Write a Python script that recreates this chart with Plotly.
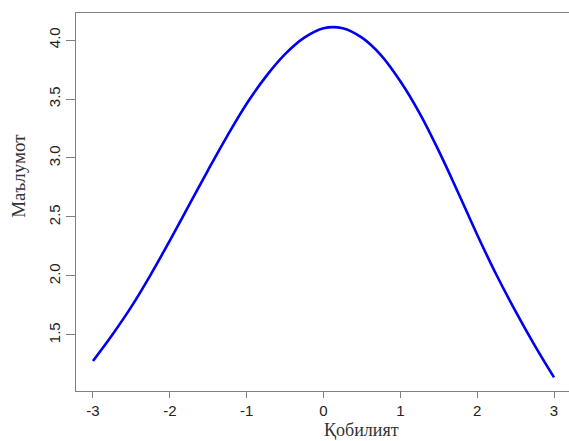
import plotly.graph_objects as go

# Ability (theta) and information values
theta = [-3.0, -2.75, -2.5, -2.25, -2.0, -1.75, -1.5, -1.25, -1.0, -0.75, -0.5, -0.25,
         0.0, 0.25, 0.5, 0.75, 1.0, 1.25, 1.5, 1.75, 2.0, 2.25, 2.5, 2.75, 3.0]
info = [1.28, 1.50, 1.74, 2.01, 2.30, 2.60, 2.90, 3.19, 3.46, 3.69, 3.88, 4.02,
        4.10, 4.10, 4.02, 3.87, 3.65, 3.38, 3.06, 2.71, 2.35, 2.01, 1.70, 1.41, 1.14]

x_ticks = [-3, -2, -1, 0, 1, 2, 3]
y_ticks = [1.5, 2.0, 2.5, 3.0, 3.5, 4.0]
x_title = "Қобилият"
y_title = "Маълумот"

fig = go.Figure()
fig.add_trace(go.Scatter(x=theta, y=info, mode="lines",
                         line=dict(color="#0000EE", width=2.6, shape="spline", smoothing=1.0),
                         showlegend=False, hoverinfo="skip"))

axis_common = dict(showgrid=False, zeroline=False, showline=True, linecolor="#808080",
                   linewidth=1, ticks="outside", tickcolor="#808080", tickwidth=1,
                   tickfont=dict(family="Liberation Sans, Arial", size=15, color="#222222"))

fig.update_xaxes(range=[-3.221, 3.195], tickvals=x_ticks, ticktext=[str(v) for v in x_ticks],
                 ticklen=6, mirror=True, **axis_common)
fig.update_yaxes(range=[1.025, 4.229], tickvals=y_ticks, ticktext=[f"{v:.1f}" for v in y_ticks],
                 ticklen=9, tickangle=-90, **axis_common)

title_font = dict(family="Liberation Serif, Times New Roman", size=18, color="#333333")
fig.add_annotation(text=x_title, xref="paper", yref="paper", x=0.580, y=-0.103,
                   xanchor="center", yanchor="middle", showarrow=False, font=title_font)
fig.add_annotation(text=y_title, xref="paper", yref="paper", x=-0.117, y=0.57,
                   xanchor="center", yanchor="middle", showarrow=False, textangle=-90,
                   font=dict(family="Liberation Serif, Times New Roman", size=19, color="#333333"))

fig.update_layout(width=569, height=441, margin=dict(l=76, r=0, t=13, b=50),
                  paper_bgcolor="white", plot_bgcolor="white")

fig.write_html("out.html")
